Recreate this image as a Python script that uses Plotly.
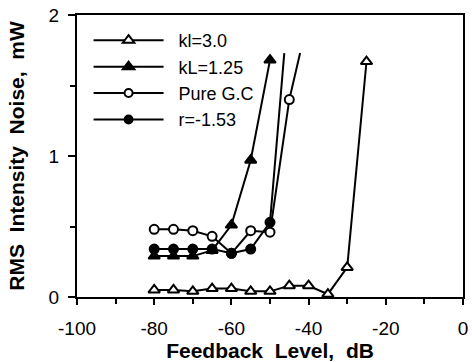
import plotly.graph_objects as go

# Feedback level (dB) and RMS intensity noise (mW) for each laser configuration
kl3_x = [-80, -75, -70, -65, -60, -55, -50, -45, -40, -35, -30, -25]
kl3_y = [0.05, 0.05, 0.04, 0.06, 0.06, 0.04, 0.04, 0.08, 0.08, 0.02, 0.21, 1.67]

kl125_x = [-80, -75, -70, -65, -60, -55, -50]
kl125_y = [0.29, 0.29, 0.29, 0.33, 0.51, 0.97, 1.68]

gc_x = [-80, -75, -70, -65, -60, -55, -50, -45, -42.2]
gc_y = [0.48, 0.48, 0.47, 0.43, 0.31, 0.47, 0.46, 1.40, 1.73]

r_x = [-80, -75, -70, -65, -60, -55, -50, -46.3]
r_y = [0.34, 0.34, 0.34, 0.34, 0.31, 0.34, 0.53, 1.73]

names = ["kl=3.0", "kL=1.25", "Pure G.C", "r=-1.53"]

x_ticks = [-100, -80, -60, -40, -20, 0]
y_ticks = [0, 1, 2]

FONT = "Liberation Sans, Arial, Helvetica, sans-serif"


def sizes(n, size, open_end=False):
    s = [size] * n
    if open_end:
        s[-1] = 0
    return s


fig = go.Figure()

series = [
    (kl3_x, kl3_y, names[0], "triangle-up", "white", 10, False),
    (kl125_x, kl125_y, names[1], "triangle-up", "black", 10, False),
    (gc_x, gc_y, names[2], "circle", "white", 9, True),
    (r_x, r_y, names[3], "circle", "black", 9, True),
]

for i, (xs, ys, nm, sym, fill, sz, open_end) in enumerate(series):
    fig.add_trace(go.Scatter(
        x=xs, y=ys, name="\u00a0\u00a0" + nm, mode="lines+markers",
        legendgroup=f"g{i}",
        line=dict(color="black", width=2),
        marker=dict(symbol=sym, color=fill, size=sizes(len(xs), sz, open_end),
                    opacity=1, line=dict(color="black", width=2)),
    ))

fig.update_layout(
    width=472, height=362,
    margin=dict(l=77, r=4, t=15, b=65),
    paper_bgcolor="white", plot_bgcolor="white",
    font=dict(family=FONT, size=18, color="black"),
    showlegend=True,
    legend=dict(
        x=0.03, y=0.975, xanchor="left", yanchor="top",
        bgcolor="rgba(0,0,0,0)", borderwidth=0,
        font=dict(size=18, family=FONT),
        itemwidth=70, tracegroupgap=0,
    ),
    xaxis=dict(
        range=[-100, 0], tickvals=x_ticks, ticktext=[str(v) for v in x_ticks],
        ticks="outside", ticklen=6, tickwidth=2, tickcolor="black",
        tickfont=dict(size=19),
        minor=dict(dtick=10, ticks="outside", ticklen=5, tickwidth=2, tickcolor="black"),
        showline=True, linecolor="black", linewidth=2, mirror=True,
        showgrid=False, zeroline=False,
        ticklabelstandoff=7,
        title=dict(text="<b>Feedback\u00a0 Level,\u00a0 dB</b>", font=dict(size=21, family=FONT), standoff=1),
    ),
    yaxis=dict(
        range=[0, 2], tickvals=y_ticks, ticktext=[str(v) for v in y_ticks],
        ticks="outside", ticklen=7, tickwidth=2, tickcolor="black",
        tickfont=dict(size=19),
        minor=dict(dtick=0.5, ticks="outside", ticklen=5, tickwidth=2, tickcolor="black"),
        showline=True, linecolor="black", linewidth=2, mirror=True,
        showgrid=False, zeroline=False,
        ticklabelstandoff=5,
        title=dict(text="<b>RMS\u00a0 Intensity\u00a0 Noise,\u00a0 mW</b>", font=dict(size=21, family=FONT), standoff=18),
    ),
)

fig.write_html("out.html")
